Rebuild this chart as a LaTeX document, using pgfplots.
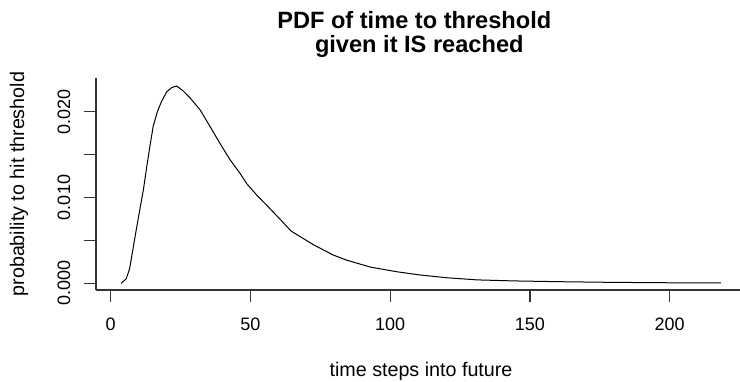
\documentclass[border=0pt]{standalone}
\usepackage{fontspec}
\setmainfont{Liberation Sans}
\usepackage{pgfplots}
\usepackage{pgfplotstable}
\pgfplotsset{compat=1.18}

% density of the first passage time, conditional on the threshold being hit
\pgfplotstableread{
t      p
3.7    0.0000
5.5    0.0005
6.7    0.0016
7.5    0.0031
8.7    0.0054
10.2   0.0082
11.7   0.0109
12.9   0.0136
14.1   0.0161
15.2   0.0183
16.7   0.0200
18.2   0.0212
20.0   0.0223
21.8   0.0228
23.6   0.0230
26.0   0.0224
28.4   0.0216
32.0   0.0202
35.5   0.0183
39.1   0.0163
42.7   0.0144
46.3   0.0128
48.7   0.0116
52.2   0.0103
55.8   0.0091
60.5   0.0075
64.5   0.0061
68.0   0.0054
72.5   0.0045
79.6   0.0033
84.4   0.0027
92.8   0.0019
102.3  0.00135
110.7  0.00097
120.2  0.00065
131.0  0.00040
144.0  0.00028
160.0  0.00019
177.0  0.00012
195.0  0.00007
218.4  0.00004
}\pdftable

\begin{document}
\begin{tikzpicture}
\useasboundingbox (-96pt,-91pt) rectangle (644pt,290pt);
\begin{axis}[
  at={(0pt,0pt)}, anchor=south west,
  scale only axis, width=644pt, height=211.7pt,
  xmin=-5.26, xmax=225.15, ymin=-0.00078, ymax=0.02389,
  axis x line*=bottom, axis y line*=left,
  axis line style={line width=1.1pt, black!80, -},
  tick align=outside, major tick length=12pt,
  tick style={line width=1.1pt, black!80},
  xtick={0,50,100,150,200}, xticklabels={0,50,100,150,200},
  ytick={0,0.005,0.010,0.015,0.020}, yticklabels={0.000,,0.010,,0.020},
  scaled y ticks=false,
  tick label style={font=\fontsize{18}{21}\selectfont, inner sep=0pt},
  xticklabel style={anchor=north, yshift=-16pt},
  yticklabel style={rotate=90, anchor=south, yshift=13.5pt},
  xlabel={time steps into future},
  ylabel={probability to hit threshold},
  label style={font=\fontsize{19.7}{22}\selectfont, inner sep=0pt},
  xlabel style={at={(axis description cs:0.5047,0)}, anchor=base, yshift=-86pt},
  ylabel style={at={(axis description cs:-0.1196,0.5)}, anchor=center},
  title={PDF of time to threshold\hspace*{10pt}\\given it IS reached},
  title style={font=\bfseries\fontsize{23.6}{23.4}\selectfont, align=center,
    at={(axis description cs:0.502,1)}, anchor=north, inner sep=0pt, yshift=60.9pt},
  clip=false,
]
\addplot[black, line width=1pt, line join=round] table[x=t, y=p] {\pdftable};
\end{axis}
\end{tikzpicture}
\end{document}
